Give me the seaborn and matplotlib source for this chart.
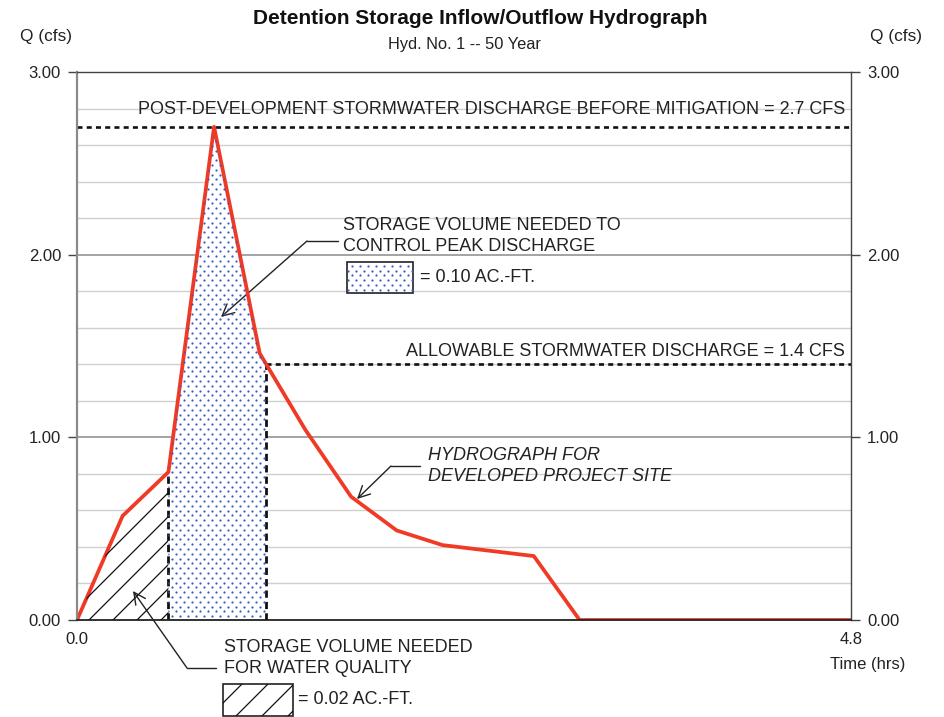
import numpy as np
import pandas as pd
import matplotlib
matplotlib.use("Agg")
import matplotlib.pyplot as plt
import seaborn as sns
from matplotlib.patches import Polygon, Rectangle
from matplotlib.lines import Line2D
from matplotlib.transforms import IdentityTransform

# Hydrograph for the developed project site (50-year storm)
time_hrs = [0.0, 0.283, 0.567, 0.850, 1.133, 1.417, 1.700, 1.983, 2.267, 2.833, 3.117, 4.8]
flow_cfs = [0.0, 0.57, 0.81, 2.70, 1.46, 1.04, 0.675, 0.49, 0.41, 0.35, 0.0, 0.0]

peak_q = 2.7          # post-development discharge before mitigation
allow_q = 1.4         # allowable discharge
wq_end_hr = 0.567     # end of water-quality storage window
vol_peak = "0.10"     # ac-ft, peak control storage
vol_wq = "0.02"       # ac-ft, water-quality storage

y_ticks = [0.0, 1.0, 2.0, 3.0]
x_ticks = [0.0, 4.8]

sns.set_theme(style="white")
plt.rcParams["font.family"] = ["Liberation Sans", "DejaVu Sans"]

W, H = 944, 717
fig = plt.figure(figsize=(W / 100, H / 100), dpi=100)
ax = fig.add_axes([77 / W, 1 - 620 / H, 774 / W, 548 / H])
ax.set_xlim(0, 4.8)
ax.set_ylim(0, 3.0)

df = pd.DataFrame({"Time (hrs)": time_hrs, "Q (cfs)": flow_cfs})
t = np.asarray(time_hrs)
q = np.asarray(flow_cfs)

# grid: light every 0.2 cfs, darker at whole cfs
for yv in np.arange(0.2, 3.0, 0.2):
    if abs(yv - round(yv)) < 1e-6:
        ax.axhline(yv, color="#8a8a8a", lw=1.1, zorder=0.5)
    else:
        ax.axhline(yv, color="#d0d0d0", lw=1.0, zorder=0.5)

# time at which the falling limb drops to the allowable rate
ipk = int(np.argmax(q))
fall_t, fall_q = t[ipk:], q[ipk:]
t_allow = float(np.interp(allow_q, fall_q[::-1], fall_t[::-1]))

# water-quality storage region (hatched)
m = t <= wq_end_hr
q_wq = float(np.interp(wq_end_hr, t, q))
wq_verts = list(zip(t[m], q[m])) + [(wq_end_hr, q_wq), (wq_end_hr, 0.0), (0.0, 0.0)]
wq_poly = Polygon(wq_verts, closed=True, facecolor="white", edgecolor="none", lw=0, zorder=1)
ax.add_patch(wq_poly)

# peak-control storage region (dotted)
m2 = (t > wq_end_hr) & (t < t_allow)
pk_verts = ([(wq_end_hr, q_wq)] + list(zip(t[m2], q[m2])) +
            [(t_allow, allow_q), (t_allow, 0.0), (wq_end_hr, 0.0)])
pk_poly = Polygon(pk_verts, closed=True, facecolor="white", edgecolor="none", lw=0, zorder=1)
ax.add_patch(pk_poly)

fig.canvas.draw()


def diag_lines(x_lo, x_hi, y_lo, y_hi, anchor, spacing, clip):
    """45-degree hatch lines in pixel space through (anchor + k*spacing, y_lo)."""
    h = y_hi - y_lo
    k0 = int(np.floor((x_lo - h - anchor) / spacing)) - 1
    c = anchor + k0 * spacing
    while c < x_hi:
        ln = Line2D([c, c + h], [y_lo, y_hi], transform=IdentityTransform(),
                    color="#111111", lw=0.9, zorder=1.2)
        fig.add_artist(ln)
        ln.set_clip_path(clip)
        c += spacing


def dot_fill(x_lo, x_hi, y_lo, y_hi, clip, dx=8.0, dy=4.8):
    """Staggered blue dot texture in pixel space, clipped to a patch."""
    xs, ys = [], []
    r = 0
    y = np.floor(y_lo / dy) * dy
    while y <= y_hi:
        off = (r % 2) * dx / 2
        x = np.floor(x_lo / dx) * dx + off
        while x <= x_hi:
            xs.append(x)
            ys.append(y)
            x += dx
        y += dy
        r += 1
    ln = Line2D(xs, ys, transform=IdentityTransform(), ls="none", marker="o",
                ms=1.6, mew=0, color="#3a5cc0", zorder=1.2)
    fig.add_artist(ln)
    ln.set_clip_path(clip)


# textures for the two storage regions
xa0, ya0 = ax.transData.transform((0, 0))
xa1, ya1 = ax.transData.transform((wq_end_hr, q_wq))
diag_lines(xa0, xa1 + 2, ya0, ya1 + 2, 89, 24, wq_poly)
xb0, _ = ax.transData.transform((wq_end_hr, 0))
xb1, yb1 = ax.transData.transform((t_allow, peak_q))
dot_fill(xb0, xb1, ya0, yb1, pk_poly)

# hydrograph
sns.lineplot(data=df, x="Time (hrs)", y="Q (cfs)", ax=ax, color="#f03a26",
             lw=2.7, zorder=5, sort=False)

# reference discharge lines
dash = (0, (1.9, 1.6))
ax.axhline(peak_q, color="#111111", lw=1.9, ls=dash, zorder=4)
ax.plot([t_allow, 4.8], [allow_q, allow_q], color="#111111", lw=1.9, ls=dash, zorder=4)
vdash = (0, (2.6, 1.5))
ax.plot([t_allow, t_allow], [0, allow_q], color="#111111", lw=2.0, ls=vdash, zorder=4)
ax.plot([wq_end_hr, wq_end_hr], [0, q_wq], color="#111111", lw=2.0, ls=vdash, zorder=4)

# axes styling
ax.set_xlabel("")
ax.set_ylabel("")
ax.set_yticks(y_ticks)
ax.set_yticklabels([f"{v:.2f}" for v in y_ticks])
ax.set_xticks(x_ticks)
ax.set_xticklabels([f"{v:.1f}" for v in x_ticks])
ax.tick_params(axis="y", left=True, right=True, labelleft=True, labelright=True,
               length=6.5, width=1, color="#444444", direction="out",
               labelsize=12, pad=5, labelcolor="#222222")
ax.tick_params(axis="x", length=0, labelsize=12, pad=9, labelcolor="#222222")
for s in ["top", "right"]:
    ax.spines[s].set_color("#444444")
    ax.spines[s].set_linewidth(1.0)
ax.spines["left"].set_color("#8a8a8a")
ax.spines["left"].set_linewidth(1.6)
ax.spines["bottom"].set_color("#222222")
ax.spines["bottom"].set_linewidth(1.3)
for s in ax.spines.values():
    s.set_zorder(6)


def px(x, y):
    """Image pixel (origin top-left) to display pixel."""
    return (x, H - y)


txt = dict(color="#222222", fontsize=13)
fig.text(480 / W, 1 - 19 / H, "Detention Storage Inflow/Outflow Hydrograph",
         ha="center", va="center", fontsize=15, fontweight="bold", color="#111111")
fig.text(464 / W, 1 - 45 / H, "Hyd. No. 1 -- 50 Year", ha="center", va="center",
         fontsize=11.8, color="#222222")
fig.text(46 / W, 1 - 37 / H, "Q (cfs)", ha="center", va="center", fontsize=12.4, color="#222222")
fig.text(896 / W, 1 - 37 / H, "Q (cfs)", ha="center", va="center", fontsize=12.4, color="#222222")
fig.text(868 / W, 1 - 665 / H, "Time (hrs)", ha="center", va="center", fontsize=12, color="#222222")

fig.text(845 / W, 1 - 109 / H,
         f"POST-DEVELOPMENT STORMWATER DISCHARGE BEFORE MITIGATION = {peak_q} CFS",
         ha="right", va="center", **txt)
fig.text(845 / W, 1 - 351 / H, f"ALLOWABLE STORMWATER DISCHARGE = {allow_q} CFS",
         ha="right", va="center", **txt)
fig.text(343 / W, 1 - 236 / H, "STORAGE VOLUME NEEDED TO\nCONTROL PEAK DISCHARGE",
         ha="left", va="center", linespacing=1.35, **txt)
fig.text(420 / W, 1 - 278 / H, f"= {vol_peak} AC.-FT.", ha="left", va="center", **txt)
fig.text(428 / W, 1 - 466 / H, "HYDROGRAPH FOR\nDEVELOPED PROJECT SITE",
         ha="left", va="center", linespacing=1.35, fontstyle="italic", **txt)
fig.text(224 / W, 1 - 658 / H, "STORAGE VOLUME NEEDED\nFOR WATER QUALITY",
         ha="left", va="center", linespacing=1.35, **txt)
fig.text(298 / W, 1 - 700 / H, f"= {vol_wq} AC.-FT.", ha="left", va="center", **txt)

# leader lines with open arrowheads
arrow = dict(arrowstyle="->,head_length=0.6,head_width=0.3", lw=1.0, color="#222222",
             shrinkA=0, shrinkB=0, mutation_scale=14)
leaders = [((338, 241), (307, 241), (221, 317)),
           ((420, 466), (391, 466), (357, 499)),
           ((216, 668), (187, 668), (133, 591))]
for a, b, tip in leaders:
    fig.add_artist(Line2D([a[0], b[0]], [H - a[1], H - b[1]], transform=IdentityTransform(),
                          color="#222222", lw=1.0))
    ax.annotate("", xy=px(*tip), xycoords="figure pixels", xytext=px(*b),
                textcoords="figure pixels", arrowprops=arrow, annotation_clip=False)

# legend swatches
sw1 = Rectangle((347, H - 293), 66, 31, transform=IdentityTransform(), facecolor="white",
                edgecolor="none", lw=0)
fig.add_artist(sw1)
dot_fill(347, 413, H - 293, H - 262, sw1)
fig.add_artist(Rectangle((347, H - 293), 66, 31, transform=IdentityTransform(),
                         fill=False, edgecolor="#222222", lw=1.2))
sw2 = Rectangle((223, H - 716), 70, 32, transform=IdentityTransform(), facecolor="white",
                edgecolor="none", lw=0)
fig.add_artist(sw2)
diag_lines(223, 293, H - 716, H - 684, 210, 26, sw2)
fig.add_artist(Rectangle((223, H - 716), 70, 32, transform=IdentityTransform(),
                         fill=False, edgecolor="#222222", lw=1.2))

fig.savefig("out.png", dpi=100, facecolor="white")
